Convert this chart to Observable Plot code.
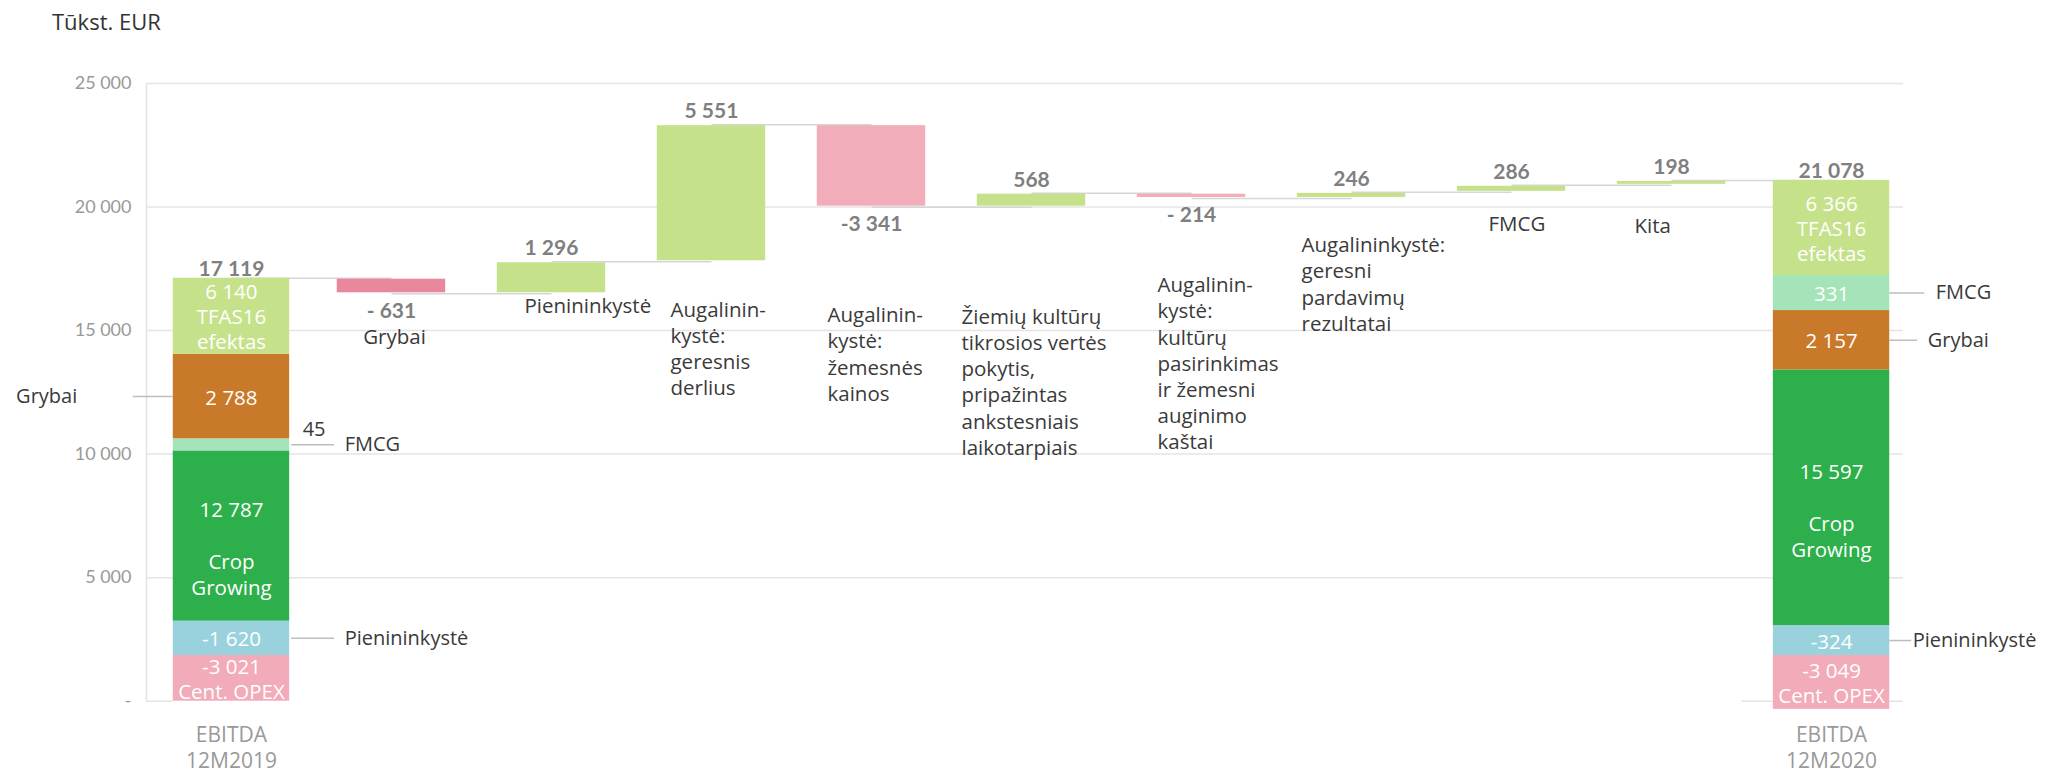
<!DOCTYPE html>
<html><head><meta charset="utf-8">
<script src="https://cdn.jsdelivr.net/npm/d3@7"></script>
<script src="https://cdn.jsdelivr.net/npm/@observablehq/plot@0.6"></script>
<style>
body{margin:0;background:#fff;font-family:"Open Sans",sans-serif;}
#title{height:45px;box-sizing:border-box;padding:10px 0 0 52px;font-size:22px;line-height:22px;color:#333;}
</style></head><body>
<div id="title">Tūkst. EUR</div>
<div id="chart"></div>
<script>
// ---------- data ----------
const categories = ["EBITDA 12M2019", "Grybai", "Pienininkystė", "Augalininkystė: geresnis derlius",
  "Augalininkystė: žemesnės kainos", "Žiemių kultūrų tikrosios vertės pokytis",
  "Augalininkystė: kultūrų pasirinkimas ir žemesni auginimo kaštai",
  "Augalininkystė: geresni pardavimų rezultatai", "FMCG", "Kita", "EBITDA 12M2020"];
const categoryLabels = ["EBITDA\n12M2019", "Grybai", "Pienininkystė",
  "Augalinin-\nkystė:\ngeresnis\nderlius",
  "Augalinin-\nkystė:\nžemesnės\nkainos",
  "Žiemių kultūrų\ntikrosios vertės\npokytis,\npripažintas\nankstesniais\nlaikotarpiais",
  "Augalinin-\nkystė:\nkultūrų\npasirinkimas\nir žemesni\nauginimo\nkaštai",
  "Augalininkystė:\ngeresni\npardavimų\nrezultatai", "FMCG", "Kita", "EBITDA\n12M2020"];
const startTotal = 17119;
const deltas = [-631, 1296, 5551, -3341, 568, -214, 246, 286, 198];
const yTicks = [0, 5000, 10000, 15000, 20000, 25000];

const segNames = ["Cent. OPEX", "Pienininkystė", "Crop Growing", "FMCG", "Grybai", "TFAS16 efektas"];
const seg2019 = [-3021, -1620, 12787, 45, 2788, 6140];
const seg2020 = [-3049, -324, 15597, 331, 2157, 6366];
// drawn extents of the stacked segments (the source does not draw them to scale)
const seg2019Low  = [0, 1850, 3240, 10130, 10620, 14040];
const seg2019High = [1850, 3240, 10130, 10620, 14040, 17119];
const seg2020Low  = [-330, 1850, 3060, 15810, 13410, 17230];
const seg2020High = [1850, 3060, 13410, 17230, 15810, 21078];

// ---------- styles / layout ----------
const segColors = {"Cent. OPEX": "#f2abb9", "Pienininkystė": "#99d2dd", "Crop Growing": "#2db04b",
  "FMCG": "#a4e4b8", "Grybai": "#c87a2a", "TFAS16 efektas": "#c5e28b"};
const posColor = "#c5e28b", negColor = "#f1adb9", negColorStrong = "#e9879c";
const gridColor = "#e4e4e4";
const textColor = "#3a3a3a";
const W = 2059, H = 731;
const mL = 146, mR = 156, mT = 38, mB = 75.3;
const n = categories.length;
const xRange = [146, 1916], pIn = 0.31, pOut = 0.186;
const step = (xRange[1] - xRange[0]) / (n - pIn + 2 * pOut);
const bw = step * (1 - pIn);
const center0 = xRange[0] + pOut * step + bw / 2;
const catFont = 20.5, catLH = 26.2 / 20.5;
// per-label placement: dx from band centre, first-baseline offset below the bar's lower end
const labelLayout = [
  {anchor: "middle", dx: 3, off: 50},
  {anchor: "start", dx: -27, off: 19.6},
  {anchor: "start", dx: -41, off: 54.7},
  {anchor: "start", dx: -44, off: 115},
  {anchor: "start", dx: -70, off: 116.6},
  {anchor: "start", dx: -34, off: 93.7},
  {anchor: "start", dx: -50, off: 53.7},
  {anchor: "start", dx: -23, off: 38.8},
  {anchor: "start", dx: -37, off: 48}
];
const annotations = [
  {cat: categories[0], name: "Grybai", side: "left", len: 40, text: 96},
  {cat: categories[0], name: "FMCG", side: "right", gap: 2, len: 43, text: 55},
  {cat: categories[0], name: "Pienininkystė", side: "right", gap: 2, len: 43, text: 55},
  {cat: categories[n - 1], name: "FMCG", side: "right", gap: 0, len: 35, text: 46},
  {cat: categories[n - 1], name: "Grybai", side: "right", gap: 0, len: 28, text: 38},
  {cat: categories[n - 1], name: "Pienininkystė", side: "right", gap: 0, len: 22, text: 23}
];
const totInset = -3;

// ---------- derived ----------
const fmtAbs = v => d3.format(",")(Math.abs(v)).replace(/,/g, " ");
const fmtSigned = v => (v < 0 ? "-" : "") + fmtAbs(v);
const fmtDelta = v => v < 0 ? (Math.abs(v) < 1000 ? "- " : "-") + fmtAbs(v) : fmtAbs(v);

let run = startTotal;
const steps = deltas.map((d, i) => {
  const from = run; run += d;
  return {cat: categories[i + 1], label: categoryLabels[i + 1], value: d, y1: from, y2: run,
    lo: Math.min(from, run), hi: Math.max(from, run)};
});
const endTotal = run;
const totals = [{cat: categories[0], value: startTotal}, {cat: categories[n - 1], value: endTotal}];
const levels = [startTotal, ...steps.map(s => s.y2)];
const connectors = levels.map((y, i) => ({a: categories[i], b: categories[i + 1], y}));

function segRows(cat, values, low, high) {
  return segNames.map((name, i) => ({cat, name, value: values[i], y1: low[i], y2: high[i], mid: (low[i] + high[i]) / 2}));
}
const segs = [...segRows(categories[0], seg2019, seg2019Low, seg2019High),
              ...segRows(categories[n - 1], seg2020, seg2020Low, seg2020High)];
const innerSuffix = {"TFAS16 efektas": "\nTFAS16\nefektas", "Crop Growing": "\n\nCrop\nGrowing", "Cent. OPEX": "\nCent. OPEX"};
const inner = segs.filter(s => s.y2 - s.y1 > 800).map(s => ({...s, text: fmtSigned(s.value) + (innerSuffix[s.name] || "")}));
const outsideValues = segs.filter(s => s.y2 - s.y1 <= 800);

const stepFill = d => d.value >= 0 ? posColor : (d.cat === "Grybai" ? negColorStrong : negColor);

const annMarks = annotations.flatMap(a => {
  const s = segs.find(d => d.cat === a.cat && d.name === a.name);
  const half = bw / 2 - totInset;
  if (a.side === "left") {
    return [
      Plot.tickY([s], {x: "cat", y: "mid", insetLeft: -a.len + totInset, insetRight: bw - totInset, stroke: "#bdbdbd", strokeWidth: 1.5}),
      Plot.text([s], {x: "cat", y: "mid", text: d => d.name, textAnchor: "end", dx: -(half + a.text), fontSize: 20, fill: textColor})
    ];
  }
  return [
    Plot.tickY([s], {x: "cat", y: "mid", insetLeft: bw - totInset + a.gap, insetRight: totInset - a.gap - a.len, stroke: "#bdbdbd", strokeWidth: 1.5}),
    Plot.text([s], {x: "cat", y: "mid", text: d => d.name, textAnchor: "start", dx: half + a.text, fontSize: 20, fill: textColor})
  ];
});

const catMarks = steps.map((s, i) => {
  const L = labelLayout[i];
  return Plot.text([s], {x: "cat", y: "lo", text: "label", textAnchor: L.anchor, lineAnchor: "top",
    dx: L.dx, dy: L.off - 0.71 * catLH * catFont, fontSize: catFont, lineHeight: catLH, fill: textColor});
});

const valueStyle = {fontSize: 21, fontWeight: "bold", fill: "#7f7f7f", lineAnchor: "bottom", fontFamily: "Lato, sans-serif"};

const chart = Plot.plot({
  width: W, height: H,
  marginLeft: mL, marginRight: mR, marginTop: mT, marginBottom: mB,
  style: {fontFamily: "'Open Sans', sans-serif", background: "#fff"},
  x: {type: "band", domain: categories, range: xRange, paddingInner: pIn, paddingOuter: pOut, round: false, axis: null},
  y: {domain: [0, 25000], axis: null},
  color: {type: "identity"},
  marks: [
    Plot.gridY(yTicks.filter(t => t > 0), {stroke: gridColor, strokeOpacity: 1, strokeWidth: 1.5}),
    Plot.ruleY([0], {stroke: gridColor, strokeWidth: 1.5, insetRight: (W - mR) - (center0 - bw / 2 + totInset)}),
    Plot.ruleY([0], {stroke: gridColor, strokeWidth: 1.5, insetLeft: 1595}),
    Plot.ruleX([categories[0]], {x: d => d, y1: 0, y2: 25000, dx: mL - center0, stroke: gridColor, strokeWidth: 1.5}),
    Plot.axisY({ticks: yTicks, tickFormat: d => d === 0 ? "-" : fmtAbs(d), tickSize: 0, tickPadding: 15, fontSize: 18, fill: "#999", fontFamily: "Lato, sans-serif"}),
    Plot.axisX({tickFormat: d => (d === categories[0] || d === categories[n - 1]) ? categoryLabels[categories.indexOf(d)] : "",
      tickSize: 0, tickPadding: 23, fontSize: 21, lineHeight: 1.22, fill: "#999"}),
    Plot.link(connectors, {x1: "a", x2: "b", y1: "y", y2: "y", stroke: "#d6d6d6", strokeWidth: 1.5}),
    Plot.barY(steps, {x: "cat", y1: "y1", y2: "y2", fill: stepFill, inset: 1}),
    Plot.barY(segs, {x: "cat", y1: "y1", y2: "y2", fill: d => segColors[d.name], insetLeft: totInset, insetRight: totInset}),
    Plot.text(inner.filter(d => d.name !== "Crop Growing"), {x: "cat", y: "mid", text: "text", fill: "white", fontSize: 20.5, lineHeight: 1.22}),
    Plot.text(inner.filter(d => d.name === "Crop Growing"), {x: "cat", y: "mid", text: "text", fill: "white", fontSize: 20.5, lineHeight: 1.27, dy: 12}),
    Plot.text(outsideValues, {x: "cat", y: "mid", text: d => fmtSigned(d.value), textAnchor: "start", lineAnchor: "bottom",
      dx: bw / 2 - totInset + 13, dy: -9, fontSize: 20, fill: textColor}),
    ...annMarks,
    Plot.text(totals, {x: "cat", y: "value", text: d => fmtAbs(d.value), dy: -2, ...valueStyle}),
    Plot.text(steps.filter(d => d.value >= 0), {x: "cat", y: "hi", text: d => fmtDelta(d.value), dy: -6.5, ...valueStyle}),
    Plot.text(steps.filter(d => d.value < 0), {x: "cat", y: "lo", text: d => fmtDelta(d.value), dy: 24, ...valueStyle}),
    ...catMarks
  ]
});
document.getElementById("chart").appendChild(chart);
</script>
</body></html>
